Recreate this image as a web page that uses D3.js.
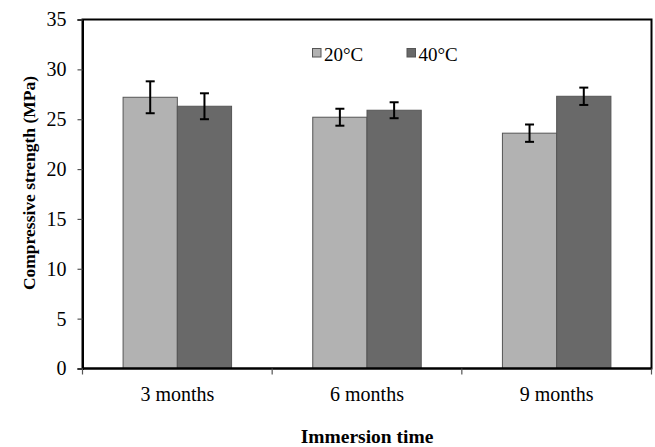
<!DOCTYPE html>
<html>
<head>
<meta charset="utf-8">
<script src="https://cdn.jsdelivr.net/npm/d3@7"></script>
<style>
  body { margin: 0; background: #fff; }
  text { font-family: "Liberation Serif", "Times New Roman", serif; }
</style>
</head>
<body>
<div id="chart"></div>
<script>
const categories = ['3 months', '6 months', '9 months'];
const series = ['20°C', '40°C'];
const values20 = [27.2, 25.2, 23.6];
const values40 = [26.3, 25.9, 27.3];
const errors20 = [1.6, 0.85, 0.87];
const errors40 = [1.3, 0.8, 0.87];
const yTicks = [0, 5, 10, 15, 20, 25, 30, 35];

const width = 655;
const height = 447;
const margin = {top: 19.5, right: 3.5, bottom: 78.5, left: 82.5};
const colors = ['#b2b2b2', '#696969'];

const rows = categories.map((c, i) => ({
  cat: c,
  vals: [
    {s: series[0], v: values20[i], e: errors20[i]},
    {s: series[1], v: values40[i], e: errors40[i]},
  ],
}));

const svg = d3.select('#chart')
    .append('svg')
    .attr('width', width)
    .attr('height', height);

const x0 = d3.scaleBand()
    .domain(categories)
    .range([margin.left, width - margin.right]);
const bw = x0.bandwidth();
const x1 = d3.scaleBand()
    .domain(series)
    .range([bw * 0.214, bw * 0.786]);
const y = d3.scaleLinear()
    .domain([0, 35])
    .range([height - margin.bottom, margin.top]);

// bars
const groups = svg.selectAll('g.cat')
    .data(rows)
    .enter().append('g')
    .attr('class', 'cat')
    .attr('transform', (d) => `translate(${x0(d.cat)},0)`);

groups.selectAll('rect')
    .data((d) => d.vals)
    .enter().append('rect')
    .attr('x', (d) => x1(d.s))
    .attr('y', (d) => y(d.v))
    .attr('width', x1.bandwidth())
    .attr('height', (d) => y(0) - y(d.v))
    .attr('fill', (_d, i) => colors[i])
    .attr('stroke', '#555')
    .attr('stroke-width', 1);

// error bars
const err = groups.selectAll('g.err')
    .data((d) => d.vals)
    .enter().append('g')
    .attr('class', 'err')
    .attr('stroke', '#000')
    .attr('stroke-width', 2);
const cx = (d) => x1(d.s) + x1.bandwidth() / 2;
err.append('line')
    .attr('x1', cx).attr('x2', cx)
    .attr('y1', (d) => y(d.v + d.e)).attr('y2', (d) => y(d.v - d.e));
err.append('line')
    .attr('x1', (d) => cx(d) - 4.5).attr('x2', (d) => cx(d) + 4.5)
    .attr('y1', (d) => y(d.v + d.e)).attr('y2', (d) => y(d.v + d.e));
err.append('line')
    .attr('x1', (d) => cx(d) - 4.5).attr('x2', (d) => cx(d) + 4.5)
    .attr('y1', (d) => y(d.v - d.e)).attr('y2', (d) => y(d.v - d.e));

// frame
svg.append('rect')
    .attr('x', margin.left)
    .attr('y', margin.top)
    .attr('width', width - margin.left - margin.right)
    .attr('height', height - margin.top - margin.bottom)
    .attr('fill', 'none')
    .attr('stroke', '#000')
    .attr('stroke-width', 2);

// y axis
const yAxis = svg.append('g')
    .attr('transform', `translate(${margin.left},0)`)
    .call(d3.axisLeft(y).tickValues(yTicks).tickSize(5).tickPadding(11));
yAxis.select('.domain').attr('stroke', '#000').attr('stroke-width', 2);
yAxis.selectAll('.tick line').attr('stroke', '#555').attr('stroke-width', 1.2);
yAxis.selectAll('.tick text')
    .attr('font-size', 20)
    .attr('fill', '#000')
    .style('font-family', '"Liberation Serif", serif');

// x axis: ticks at category boundaries
const xAxis = svg.append('g')
    .attr('transform', `translate(0,${y(0)})`);
xAxis.append('line')
    .attr('x1', margin.left).attr('x2', width - margin.right)
    .attr('stroke', '#000').attr('stroke-width', 2);
xAxis.selectAll('line.tk')
    .data(categories.concat(['end']))
    .enter().append('line')
    .attr('class', 'tk')
    .attr('x1', (d, i) => margin.left + i * bw)
    .attr('x2', (d, i) => margin.left + i * bw)
    .attr('y1', 0).attr('y2', 6)
    .attr('stroke', '#555').attr('stroke-width', 1.2);
xAxis.selectAll('text')
    .data(categories)
    .enter().append('text')
    .attr('x', (d) => x0(d) + bw / 2)
    .attr('y', 32.5)
    .attr('text-anchor', 'middle')
    .attr('font-size', 20)
    .text((d) => d);

// axis titles
svg.append('text')
    .attr('transform', 'translate(35,183) rotate(-90)')
    .attr('text-anchor', 'middle')
    .attr('font-size', 17.5)
    .attr('font-weight', 'bold')
    .text('Compressive strength (MPa)');
svg.append('text')
    .attr('x', (margin.left + width - margin.right) / 2)
    .attr('y', 443)
    .attr('text-anchor', 'middle')
    .attr('font-size', 19.5)
    .attr('font-weight', 'bold')
    .text('Immersion time');

// legend
const legend = svg.selectAll('g.leg')
    .data(series)
    .enter().append('g')
    .attr('class', 'leg')
    .attr('transform', (d, i) => `translate(${312.5 + i * 94.5},48.5)`);
legend.append('rect')
    .attr('width', 8.5).attr('height', 8.5)
    .attr('fill', (_d, i) => colors[i])
    .attr('stroke', '#555')
    .attr('stroke-width', 1);
legend.append('text')
    .attr('x', 11.5)
    .attr('y', 12.5)
    .attr('font-size', 19)
    .text((d) => d);
</script>
</body>
</html>
